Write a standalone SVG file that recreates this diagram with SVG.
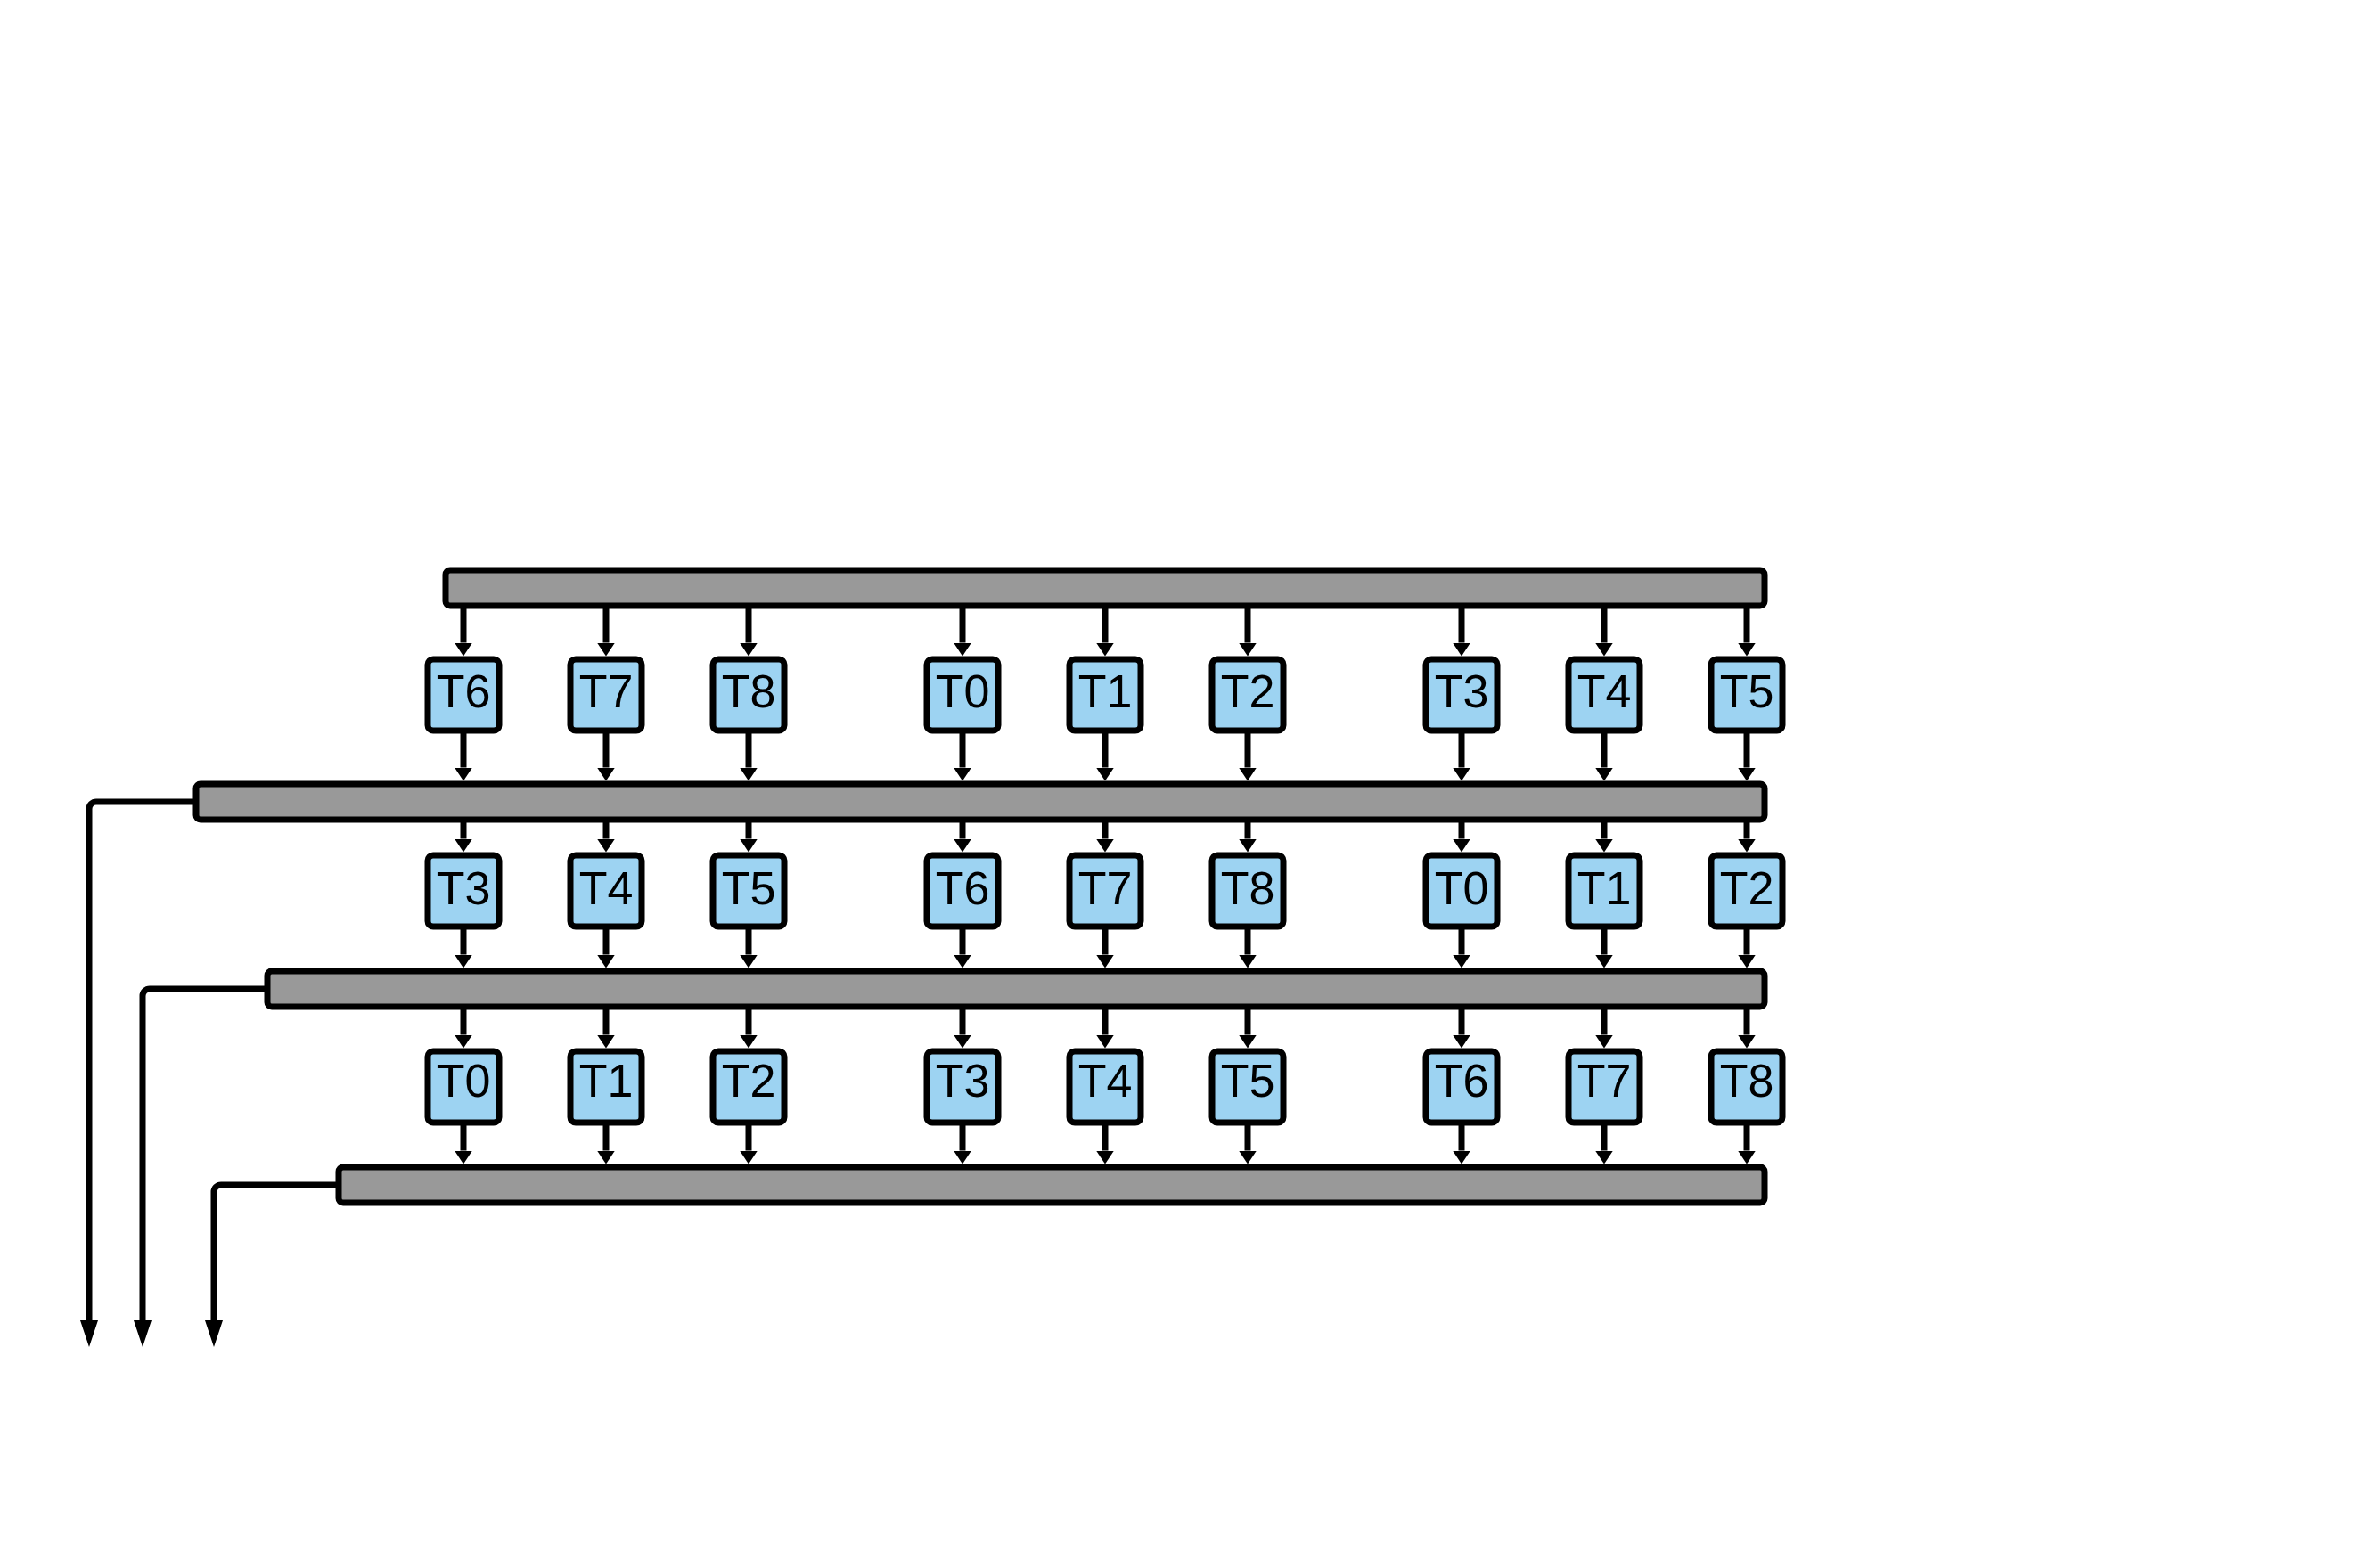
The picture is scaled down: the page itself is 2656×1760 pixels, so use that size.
<svg xmlns="http://www.w3.org/2000/svg" width="2656" height="1760" viewBox="0 0 2656 1760">
<style>
.bar{fill:#999999;stroke:#000;stroke-width:7}
.box{fill:#9dd3f2;stroke:#000;stroke-width:7}
.lbl{font-family:"Liberation Sans",Arial,sans-serif;font-size:52px;fill:#000;text-anchor:middle}
.c{fill:none;stroke:#000;stroke-width:7}
</style>
<defs>
<marker id="ah" viewBox="0 0 15 20" refX="0" refY="10" markerWidth="15" markerHeight="20" markerUnits="userSpaceOnUse" orient="auto"><path d="M0,0 L15,10 L0,20 z" fill="#000"/></marker>
<marker id="ahL" viewBox="0 0 30 20" refX="0" refY="10" markerWidth="30" markerHeight="20" markerUnits="userSpaceOnUse" orient="auto"><path d="M0,0 L30,10 L0,20 z" fill="#000"/></marker>
</defs>
<rect width="2656" height="1760" fill="#fff"/>
<g id="connectors">
<g id="c-bar1-row1">
<path class="c" marker-end="url(#ah)" d="M520,683 V721.5"/><path class="c" marker-end="url(#ah)" d="M680,683 V721.5"/><path class="c" marker-end="url(#ah)" d="M840,683 V721.5"/><path class="c" marker-end="url(#ah)" d="M1080,683 V721.5"/><path class="c" marker-end="url(#ah)" d="M1240,683 V721.5"/><path class="c" marker-end="url(#ah)" d="M1400,683 V721.5"/><path class="c" marker-end="url(#ah)" d="M1640,683 V721.5"/><path class="c" marker-end="url(#ah)" d="M1800,683 V721.5"/><path class="c" marker-end="url(#ah)" d="M1960,683 V721.5"/>
</g>
<g id="c-row1-bar2">
<path class="c" marker-end="url(#ah)" d="M520,823 V861.5"/><path class="c" marker-end="url(#ah)" d="M680,823 V861.5"/><path class="c" marker-end="url(#ah)" d="M840,823 V861.5"/><path class="c" marker-end="url(#ah)" d="M1080,823 V861.5"/><path class="c" marker-end="url(#ah)" d="M1240,823 V861.5"/><path class="c" marker-end="url(#ah)" d="M1400,823 V861.5"/><path class="c" marker-end="url(#ah)" d="M1640,823 V861.5"/><path class="c" marker-end="url(#ah)" d="M1800,823 V861.5"/><path class="c" marker-end="url(#ah)" d="M1960,823 V861.5"/>
</g>
<g id="c-bar2-row2">
<path class="c" marker-end="url(#ah)" d="M520,923 V941.5"/><path class="c" marker-end="url(#ah)" d="M680,923 V941.5"/><path class="c" marker-end="url(#ah)" d="M840,923 V941.5"/><path class="c" marker-end="url(#ah)" d="M1080,923 V941.5"/><path class="c" marker-end="url(#ah)" d="M1240,923 V941.5"/><path class="c" marker-end="url(#ah)" d="M1400,923 V941.5"/><path class="c" marker-end="url(#ah)" d="M1640,923 V941.5"/><path class="c" marker-end="url(#ah)" d="M1800,923 V941.5"/><path class="c" marker-end="url(#ah)" d="M1960,923 V941.5"/>
</g>
<g id="c-row2-bar3">
<path class="c" marker-end="url(#ah)" d="M520,1043 V1071.5"/><path class="c" marker-end="url(#ah)" d="M680,1043 V1071.5"/><path class="c" marker-end="url(#ah)" d="M840,1043 V1071.5"/><path class="c" marker-end="url(#ah)" d="M1080,1043 V1071.5"/><path class="c" marker-end="url(#ah)" d="M1240,1043 V1071.5"/><path class="c" marker-end="url(#ah)" d="M1400,1043 V1071.5"/><path class="c" marker-end="url(#ah)" d="M1640,1043 V1071.5"/><path class="c" marker-end="url(#ah)" d="M1800,1043 V1071.5"/><path class="c" marker-end="url(#ah)" d="M1960,1043 V1071.5"/>
</g>
<g id="c-bar3-row3">
<path class="c" marker-end="url(#ah)" d="M520,1133 V1161.5"/><path class="c" marker-end="url(#ah)" d="M680,1133 V1161.5"/><path class="c" marker-end="url(#ah)" d="M840,1133 V1161.5"/><path class="c" marker-end="url(#ah)" d="M1080,1133 V1161.5"/><path class="c" marker-end="url(#ah)" d="M1240,1133 V1161.5"/><path class="c" marker-end="url(#ah)" d="M1400,1133 V1161.5"/><path class="c" marker-end="url(#ah)" d="M1640,1133 V1161.5"/><path class="c" marker-end="url(#ah)" d="M1800,1133 V1161.5"/><path class="c" marker-end="url(#ah)" d="M1960,1133 V1161.5"/>
</g>
<g id="c-row3-bar4">
<path class="c" marker-end="url(#ah)" d="M520,1263 V1291.5"/><path class="c" marker-end="url(#ah)" d="M680,1263 V1291.5"/><path class="c" marker-end="url(#ah)" d="M840,1263 V1291.5"/><path class="c" marker-end="url(#ah)" d="M1080,1263 V1291.5"/><path class="c" marker-end="url(#ah)" d="M1240,1263 V1291.5"/><path class="c" marker-end="url(#ah)" d="M1400,1263 V1291.5"/><path class="c" marker-end="url(#ah)" d="M1640,1263 V1291.5"/><path class="c" marker-end="url(#ah)" d="M1800,1263 V1291.5"/><path class="c" marker-end="url(#ah)" d="M1960,1263 V1291.5"/>
</g>
<g id="c-feedback">
<path class="c" marker-end="url(#ahL)" d="M220,900 H108 A8,8 0 0 0 100,908 V1482"/>
<path class="c" marker-end="url(#ahL)" d="M300,1110 H168 A8,8 0 0 0 160,1118 V1482"/>
<path class="c" marker-end="url(#ahL)" d="M380,1330 H248 A8,8 0 0 0 240,1338 V1482"/>
</g>
</g>
<g id="bar1"><rect class="bar" x="500" y="640" width="1480" height="40" rx="5"/></g>
<g id="bar2"><rect class="bar" x="220" y="880" width="1760" height="40" rx="5"/></g>
<g id="bar3"><rect class="bar" x="300" y="1090" width="1680" height="40" rx="5"/></g>
<g id="bar4"><rect class="bar" x="380" y="1310" width="1600" height="40" rx="5"/></g>
<g id="row1">
<g id="r1-T6"><rect class="box" x="480" y="740" width="80" height="80" rx="6"/><text class="lbl" x="520" y="794">T6</text></g>
<g id="r1-T7"><rect class="box" x="640" y="740" width="80" height="80" rx="6"/><text class="lbl" x="680" y="794">T7</text></g>
<g id="r1-T8"><rect class="box" x="800" y="740" width="80" height="80" rx="6"/><text class="lbl" x="840" y="794">T8</text></g>
<g id="r1-T0"><rect class="box" x="1040" y="740" width="80" height="80" rx="6"/><text class="lbl" x="1080" y="794">T0</text></g>
<g id="r1-T1"><rect class="box" x="1200" y="740" width="80" height="80" rx="6"/><text class="lbl" x="1240" y="794">T1</text></g>
<g id="r1-T2"><rect class="box" x="1360" y="740" width="80" height="80" rx="6"/><text class="lbl" x="1400" y="794">T2</text></g>
<g id="r1-T3"><rect class="box" x="1600" y="740" width="80" height="80" rx="6"/><text class="lbl" x="1640" y="794">T3</text></g>
<g id="r1-T4"><rect class="box" x="1760" y="740" width="80" height="80" rx="6"/><text class="lbl" x="1800" y="794">T4</text></g>
<g id="r1-T5"><rect class="box" x="1920" y="740" width="80" height="80" rx="6"/><text class="lbl" x="1960" y="794">T5</text></g>
</g>
<g id="row2">
<g id="r2-T3"><rect class="box" x="480" y="960" width="80" height="80" rx="6"/><text class="lbl" x="520" y="1015">T3</text></g>
<g id="r2-T4"><rect class="box" x="640" y="960" width="80" height="80" rx="6"/><text class="lbl" x="680" y="1015">T4</text></g>
<g id="r2-T5"><rect class="box" x="800" y="960" width="80" height="80" rx="6"/><text class="lbl" x="840" y="1015">T5</text></g>
<g id="r2-T6"><rect class="box" x="1040" y="960" width="80" height="80" rx="6"/><text class="lbl" x="1080" y="1015">T6</text></g>
<g id="r2-T7"><rect class="box" x="1200" y="960" width="80" height="80" rx="6"/><text class="lbl" x="1240" y="1015">T7</text></g>
<g id="r2-T8"><rect class="box" x="1360" y="960" width="80" height="80" rx="6"/><text class="lbl" x="1400" y="1015">T8</text></g>
<g id="r2-T0"><rect class="box" x="1600" y="960" width="80" height="80" rx="6"/><text class="lbl" x="1640" y="1015">T0</text></g>
<g id="r2-T1"><rect class="box" x="1760" y="960" width="80" height="80" rx="6"/><text class="lbl" x="1800" y="1015">T1</text></g>
<g id="r2-T2"><rect class="box" x="1920" y="960" width="80" height="80" rx="6"/><text class="lbl" x="1960" y="1015">T2</text></g>
</g>
<g id="row3">
<g id="r3-T0"><rect class="box" x="480" y="1180" width="80" height="80" rx="6"/><text class="lbl" x="520" y="1231">T0</text></g>
<g id="r3-T1"><rect class="box" x="640" y="1180" width="80" height="80" rx="6"/><text class="lbl" x="680" y="1231">T1</text></g>
<g id="r3-T2"><rect class="box" x="800" y="1180" width="80" height="80" rx="6"/><text class="lbl" x="840" y="1231">T2</text></g>
<g id="r3-T3"><rect class="box" x="1040" y="1180" width="80" height="80" rx="6"/><text class="lbl" x="1080" y="1231">T3</text></g>
<g id="r3-T4"><rect class="box" x="1200" y="1180" width="80" height="80" rx="6"/><text class="lbl" x="1240" y="1231">T4</text></g>
<g id="r3-T5"><rect class="box" x="1360" y="1180" width="80" height="80" rx="6"/><text class="lbl" x="1400" y="1231">T5</text></g>
<g id="r3-T6"><rect class="box" x="1600" y="1180" width="80" height="80" rx="6"/><text class="lbl" x="1640" y="1231">T6</text></g>
<g id="r3-T7"><rect class="box" x="1760" y="1180" width="80" height="80" rx="6"/><text class="lbl" x="1800" y="1231">T7</text></g>
<g id="r3-T8"><rect class="box" x="1920" y="1180" width="80" height="80" rx="6"/><text class="lbl" x="1960" y="1231">T8</text></g>
</g>
</svg>
